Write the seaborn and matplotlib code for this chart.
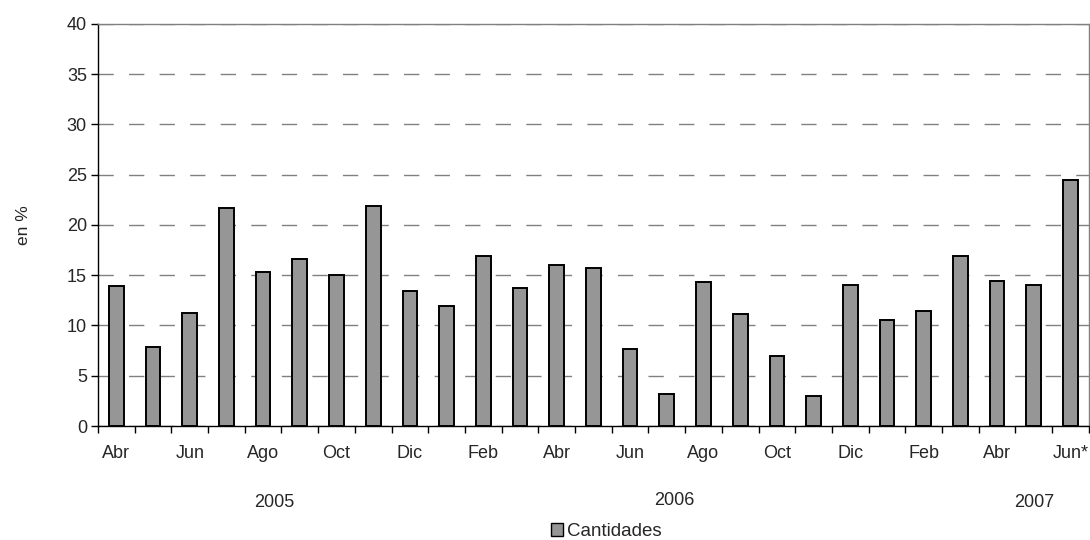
import matplotlib
matplotlib.use("Agg")
import matplotlib.pyplot as plt
import matplotlib.transforms as mtransforms
from matplotlib.patches import Patch
import seaborn as sns
import pandas as pd

# Datos (en %), abril 2005 - junio 2007
meses = ["Abr", "May", "Jun", "Jul", "Ago", "Sep", "Oct", "Nov", "Dic",
         "Ene", "Feb", "Mar", "Abr", "May", "Jun", "Jul", "Ago", "Sep", "Oct", "Nov", "Dic",
         "Ene", "Feb", "Mar", "Abr", "May", "Jun*"]
anios = ["2005"] * 9 + ["2006"] * 12 + ["2007"] * 6
cantidades = [13.9, 7.9, 11.2, 21.7, 15.3, 16.6, 15.0, 21.9, 13.4,
              11.9, 16.9, 13.7, 16.0, 15.7, 7.7, 3.2, 14.3, 11.1, 7.0, 3.0, 14.0,
              10.5, 11.4, 16.9, 14.4, 14.0, 24.5]
etiquetas_anio = ["2005", "2006", "2007"]

df = pd.DataFrame({"mes": [f"{m} {a}" for m, a in zip(meses, anios)],
                   "Cantidades": cantidades})

sns.set_style("white")
plt.rcParams["font.family"] = ["Liberation Sans", "DejaVu Sans"]
plt.rcParams["lines.scale_dashes"] = False

fig = plt.figure(figsize=(10.9, 5.4), dpi=100)
ax = fig.add_axes([0.0899, 0.2111, 0.909, 0.7445])

ax.yaxis.grid(True, color="#808080", linestyle=(0, (11, 11)), linewidth=1.0)
ax.set_axisbelow(True)

sns.barplot(data=df, x="mes", y="Cantidades", color="#969696", saturation=1,
            edgecolor="black", linewidth=1.4, width=0.4, ax=ax)

n = len(cantidades)
ax.set_xlim(-0.5, n - 0.5)
ax.set_ylim(0, 40)
ax.set_yticks(range(0, 41, 5))

# etiquetas de meses (cada dos) y marcas entre categorias
ax.set_xticks(range(0, n, 2))
ax.set_xticklabels(meses[::2])
ax.set_xticks([i - 0.5 for i in range(n + 1)], minor=True)
ax.tick_params(axis="x", which="major", length=0, pad=14, labelsize=13)
ax.tick_params(axis="x", which="minor", length=5, width=1, color="black", direction="out")
ax.tick_params(axis="y", length=5, width=1, color="black", direction="out", pad=3, labelsize=13)
ax.tick_params(bottom=True, left=True, which="both")

for s in ["left", "bottom"]:
    ax.spines[s].set_color("black")
    ax.spines[s].set_linewidth(1.0)
for s in ["top", "right"]:
    ax.spines[s].set_color("#808080")
    ax.spines[s].set_linewidth(1.0)

ax.set_xlabel("")
ax.set_ylabel("en %", fontsize=12.5, labelpad=26)

# anios debajo de los meses
trans = mtransforms.blended_transform_factory(ax.transData, fig.transFigure)
for xpos, ypos, a in zip([4.3, 15.2, 25.0], [0.069, 0.074, 0.069], etiquetas_anio):
    ax.text(xpos, ypos, a, transform=trans, ha="center", va="center", fontsize=13)

handle = Patch(facecolor="#969696", edgecolor="black", linewidth=1.0)
fig.legend([handle], ["Cantidades"], loc="center", bbox_to_anchor=(0.556, 0.016),
           frameon=False, fontsize=13.5, handlelength=0.65, handleheight=0.65,
           handletextpad=0.2, borderpad=0)

fig.savefig("out.png", dpi=100)
